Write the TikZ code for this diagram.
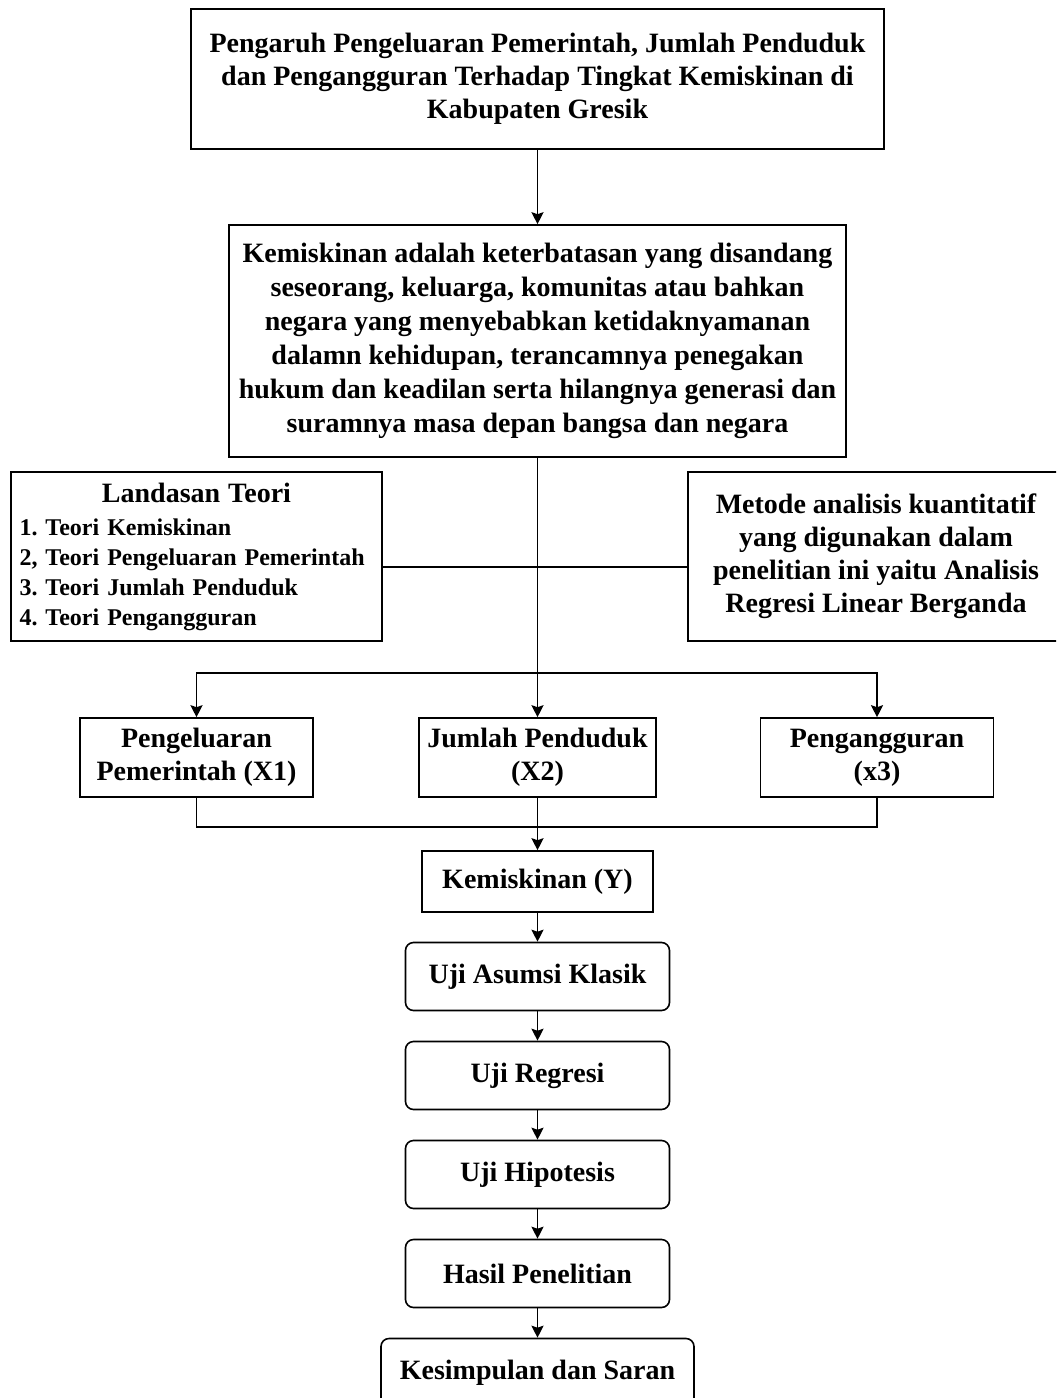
\documentclass[tikz,border=0pt]{standalone}
\usepackage{fontspec}
\setmainfont{Liberation Serif}
\usetikzlibrary{arrows.meta,positioning}
\tikzset{
    block/.style = {draw, rectangle, line width=0.8pt,
        font=\bfseries\fontsize{14}{16.5}\selectfont, align=center},
    rblock/.style = {block, rounded corners=4pt,
        minimum width=132pt, minimum height=34pt},
    varblock/.style = {block, minimum height=39.5pt},
    arrow/.style = {draw, line width=0.8pt, ->}
}

\begin{document}
\begin{tikzpicture}[x=0.5pt, y=-0.5pt, >={Stealth[length=6pt,width=6pt,inset=1pt]}, node distance=49.5pt]
    \useasboundingbox (0,0) rectangle (1056,1398);
    \clip (0,0) rectangle (1056,1398);
    % judul dan definisi
    \node [block, minimum width=346.5pt, minimum height=70pt] (judul) at (537.5,79)
        {Pengaruh Pengeluaran Pemerintah, Jumlah Penduduk\\
         dan Pengangguran Terhadap Tingkat Kemiskinan di\\
         Kabupaten Gresik};
    \node [block, minimum width=308.5pt, minimum height=116pt,
        font=\bfseries\fontsize{14}{17}\selectfont] (definisi) at (537.5,341)
        {Kemiskinan adalah keterbatasan yang disandang\\
         seseorang, keluarga, komunitas atau bahkan\\
         negara yang menyebabkan ketidaknyamanan\\
         dalamn kehidupan, terancamnya penegakan\\
         hukum dan keadilan serta hilangnya generasi dan\\
         suramnya masa depan bangsa dan negara};
    % teori dan metode
    \node [block, minimum width=185.5pt, minimum height=84.5pt, text width=177pt, align=left,
        font=\bfseries\fontsize{12}{15}\selectfont] (teori) at (196.5,556.5)
        {\makebox[177pt]{\fontsize{14}{15}\selectfont Landasan Teori}\\[1.5pt]
         1.\ Teori Kemiskinan\\
         2, Teori Pengeluaran Pemerintah\\
         3.\ Teori Jumlah Penduduk\\
         4.\ Teori Pengangguran};
    \node [block, minimum width=188pt, minimum height=84.5pt] (metode) at (876,556.5)
        {Metode analisis kuantitatif\\
         yang digunakan dalam\\
         penelitian ini yaitu Analisis\\
         Regresi Linear Berganda};
    % variabel
    \node [varblock, minimum width=116.5pt] (pengeluaran) at (196.5,757.5) {Pengeluaran\\Pemerintah (X1)};
    \node [varblock, minimum width=118.5pt] (jumlah) at (537.5,757.5) {Jumlah Penduduk\\(X2)};
    \node [varblock, minimum width=116.5pt] (pengangguran) at (877,757.5) {Pengangguran\\(x3)};
    \node [block, minimum width=115.5pt, minimum height=30.5pt] (kemiskinan) at (537.5,881.5) {Kemiskinan (Y)};
    % tahapan uji
    \node [rblock, below of=kemiskinan, node distance=47.5pt] (asumsi) {Uji Asumsi Klasik};
    \node [rblock, below of=asumsi] (regresi) {Uji Regresi};
    \node [rblock, below of=regresi] (hipotesis) {Uji Hipotesis};
    \node [rblock, below of=hipotesis] (hasil) {Hasil Penelitian};
    \node [rblock, below of=hasil, minimum width=156.5pt] (kesimpulan) {Kesimpulan dan Saran};
    \coordinate (silang) at (537.5,567);
    \coordinate (atas) at (537.5,673);
    \coordinate (bawah) at (537.5,827);
    \draw [arrow] (judul) -- (definisi);
    \draw [arrow] (definisi) -- (jumlah);
    \draw [draw, line width=0.8pt] (teori.east |- silang) -- (metode.west |- silang);
    \draw [arrow] (atas) -| (pengeluaran);
    \draw [arrow] (atas) -| (pengangguran);
    \draw [draw, line width=0.8pt] (pengeluaran) |- (bawah);
    \draw [draw, line width=0.8pt] (pengangguran) |- (bawah);
    \draw [arrow] (jumlah) -- (kemiskinan);
    \draw [arrow] (kemiskinan) -- (asumsi);
    \draw [arrow] (asumsi) -- (regresi);
    \draw [arrow] (regresi) -- (hipotesis);
    \draw [arrow] (hipotesis) -- (hasil);
    \draw [arrow] (hasil) -- (kesimpulan);
\end{tikzpicture}
\end{document}
